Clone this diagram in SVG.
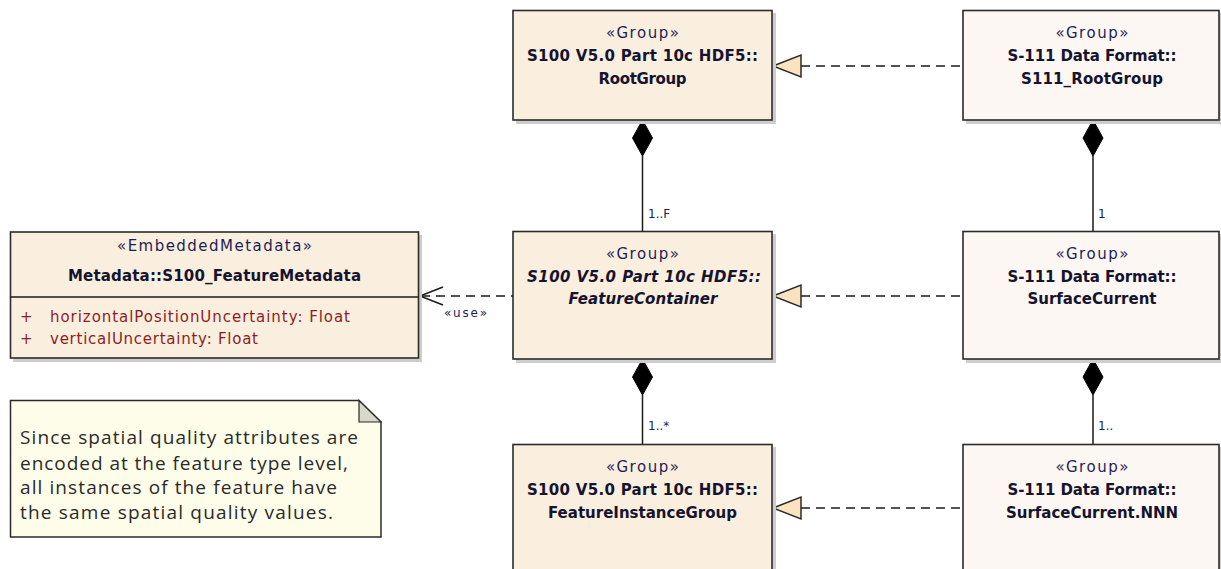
<svg xmlns="http://www.w3.org/2000/svg" width="1221" height="569" viewBox="0 0 1221 569">
  <style>
    .shadow { fill: #cdcdcd; }
    .box { stroke: #2b2b2b; stroke-width: 1.6; }
    .gen { fill: #faeedf; }
    .spec { fill: #fdf7f3; }
    .stereo { font-family: "DejaVu Sans", Verdana, sans-serif; font-size: 15px; fill: #1e1e55; text-anchor: middle; }
    .name { font-family: "DejaVu Sans", Verdana, sans-serif; font-size: 15px; font-weight: bold; fill: #14142e; text-anchor: middle; }
    .abstract { font-style: italic; }
    .attr { font-family: "DejaVu Sans", Verdana, sans-serif; font-size: 15px; fill: #8a1f1f; }
    .mult { font-family: "DejaVu Sans", Verdana, sans-serif; font-size: 12px; fill: #1e1e55; }
    .note { font-family: "Open Sans", "DejaVu Sans", sans-serif; font-size: 19px; fill: #2a2a2a; }
    .line { fill: none; stroke: #1a1a1a; stroke-width: 1.5; }
    .dash { fill: none; stroke: #1a1a1a; stroke-width: 1.5; stroke-dasharray: 9 6; }
    .diamond { fill: #000; stroke: #000; stroke-width: 1; }
    .tri { fill: #fde2bf; stroke: #2b2b2b; stroke-width: 1.5; }
  </style>

  <!-- Connectors -->
  <g id="connectors">
    <!-- composition: RootGroup -> FeatureContainer -->
    <line class="line" x1="642.5" y1="156" x2="642.5" y2="231"/>
    <polygon class="diamond" points="642.5,120 652.5,138 642.5,156 632.5,138"/>
    <text class="mult" x="648" y="218">1..F</text>

    <!-- composition: FeatureContainer -> FeatureInstanceGroup -->
    <line class="line" x1="642.5" y1="395" x2="642.5" y2="444"/>
    <polygon class="diamond" points="642.5,359 652.5,377 642.5,395 632.5,377"/>
    <text class="mult" x="648" y="430">1..*</text>

    <!-- composition: S111_RootGroup -> SurfaceCurrent -->
    <line class="line" x1="1093" y1="156" x2="1093" y2="231"/>
    <polygon class="diamond" points="1093,120 1103,138 1093,156 1083,138"/>
    <text class="mult" x="1098" y="218">1</text>

    <!-- composition: SurfaceCurrent -> SurfaceCurrent.NNN -->
    <line class="line" x1="1093" y1="395" x2="1093" y2="444"/>
    <polygon class="diamond" points="1093,359 1103,377 1093,395 1083,377"/>
    <text class="mult" x="1098" y="430">1..</text>

    <!-- realizations (dashed, hollow triangle) -->
    <line class="dash" x1="801" y1="66" x2="963" y2="66"/>
    <polygon class="tri" points="773,66 801,55 801,77"/>
    <line class="dash" x1="801" y1="296" x2="963" y2="296"/>
    <polygon class="tri" points="773,296 801,285 801,307"/>
    <line class="dash" x1="801" y1="508" x2="963" y2="508"/>
    <polygon class="tri" points="773,508 801,497 801,519"/>

    <!-- usage dependency -->
    <line class="dash" x1="421" y1="296" x2="513" y2="296"/>
    <polyline class="line" points="443,287 420,296 443,305"/>
    <text class="mult" x="444" y="317" textLength="43">«use»</text>
  </g>

  <!-- Metadata::S100_FeatureMetadata -->
  <g id="node-feature-metadata">
    <rect class="shadow" x="13" y="235" width="409" height="127"/>
    <rect class="box gen" x="10.5" y="232" width="408" height="126"/>
    <line class="line" x1="10.5" y1="297" x2="418.5" y2="297"/>
    <text class="stereo" x="214.5" y="251" textLength="195">«EmbeddedMetadata»</text>
    <text class="name" x="214.5" y="281" textLength="293">Metadata::S100_FeatureMetadata</text>
    <text class="attr" x="20" y="322">+</text>
    <text class="attr" x="50" y="322" textLength="300">horizontalPositionUncertainty: Float</text>
    <text class="attr" x="20" y="344">+</text>
    <text class="attr" x="50" y="344" textLength="208">verticalUncertainty: Float</text>
  </g>

  <!-- Note -->
  <g id="node-note">
    <path d="M10.5,400.5 H359 L381,422 V537 H10.5 Z" fill="#fdfde9" stroke="#2b2b2b" stroke-width="1.5"/>
    <path d="M359,400.5 V422 H381 Z" fill="#d8d8c8" stroke="#2b2b2b" stroke-width="1.2"/>
    <text class="note" x="20" y="444" textLength="338">Since spatial quality attributes are</text>
    <text class="note" x="20" y="470" textLength="328">encoded at the feature type level,</text>
    <text class="note" x="20" y="494" textLength="317">all instances of the feature have</text>
    <text class="note" x="20" y="519" textLength="313">the same spatial quality values.</text>
  </g>

  <!-- S100 V5.0 Part 10c HDF5::RootGroup -->
  <g id="node-root-group">
    <rect class="shadow" x="516" y="13" width="260" height="111"/>
    <rect class="box gen" x="513" y="10.5" width="259" height="109.5"/>
    <text class="stereo" x="642.5" y="38" textLength="73">«Group»</text>
    <text class="name" x="642.5" y="61" textLength="231">S100 V5.0 Part 10c HDF5::</text>
    <text class="name" x="642.5" y="84" textLength="88">RootGroup</text>
  </g>

  <!-- S100 V5.0 Part 10c HDF5::FeatureContainer (abstract) -->
  <g id="node-feature-container">
    <rect class="shadow" x="516" y="234" width="260" height="129"/>
    <rect class="box gen" x="513" y="231.5" width="259" height="127.5"/>
    <text class="stereo" x="642.5" y="259" textLength="73">«Group»</text>
    <text class="name abstract" x="644" y="282" textLength="234">S100 V5.0 Part 10c HDF5::</text>
    <text class="name abstract" x="643" y="304" textLength="149">FeatureContainer</text>
  </g>

  <!-- S100 V5.0 Part 10c HDF5::FeatureInstanceGroup -->
  <g id="node-feature-instance-group">
    <rect class="shadow" x="516" y="447" width="260" height="130"/>
    <rect class="box gen" x="513" y="444.5" width="259" height="130"/>
    <text class="stereo" x="642.5" y="472" textLength="73">«Group»</text>
    <text class="name" x="642.5" y="495" textLength="231">S100 V5.0 Part 10c HDF5::</text>
    <text class="name" x="642.5" y="518">FeatureInstanceGroup</text>
  </g>

  <!-- S-111 Data Format::S111_RootGroup -->
  <g id="node-s111-root-group">
    <rect class="shadow" x="966" y="13" width="260" height="111"/>
    <rect class="box spec" x="963" y="10.5" width="256" height="109.5"/>
    <text class="stereo" x="1092" y="38" textLength="73">«Group»</text>
    <text class="name" x="1092" y="61" textLength="169">S-111 Data Format::</text>
    <text class="name" x="1092" y="84" textLength="142">S111_RootGroup</text>
  </g>

  <!-- S-111 Data Format::SurfaceCurrent -->
  <g id="node-surface-current">
    <rect class="shadow" x="966" y="234" width="260" height="129"/>
    <rect class="box spec" x="963" y="231.5" width="256" height="127.5"/>
    <text class="stereo" x="1092" y="259" textLength="73">«Group»</text>
    <text class="name" x="1092" y="282" textLength="169">S-111 Data Format::</text>
    <text class="name" x="1092" y="304">SurfaceCurrent</text>
  </g>

  <!-- S-111 Data Format::SurfaceCurrent.NNN -->
  <g id="node-surface-current-nnn">
    <rect class="shadow" x="966" y="447" width="260" height="130"/>
    <rect class="box spec" x="963" y="444.5" width="256" height="130"/>
    <text class="stereo" x="1092" y="472" textLength="73">«Group»</text>
    <text class="name" x="1092" y="495" textLength="169">S-111 Data Format::</text>
    <text class="name" x="1092" y="518" textLength="172">SurfaceCurrent.NNN</text>
  </g>
</svg>
